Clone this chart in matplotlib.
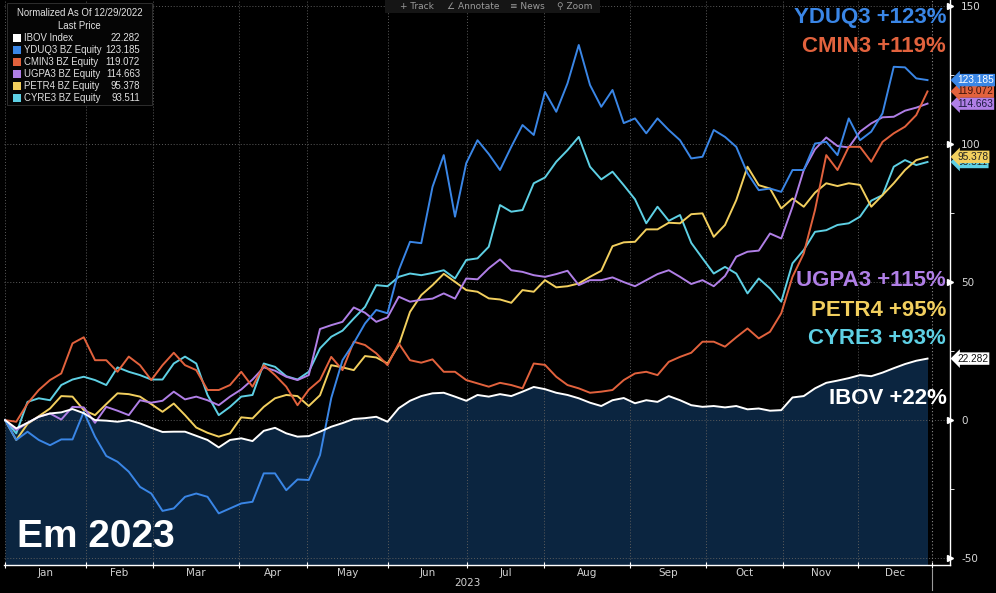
import matplotlib
matplotlib.use("Agg")
import matplotlib.pyplot as plt
from matplotlib.transforms import blended_transform_factory
from matplotlib.patches import Rectangle
from matplotlib.lines import Line2D

# ---------------- data (trading-day index, normalized % change) ----------------
days = list(range(0, 247, 3))

ibov = [0, -3, -1, 1.2, 2.4, 2.8, 4.0, 2.5, 0, -0.2,
        -0.6, 0, -1.2, -2.8, -4.3, -4.2, -4.2, -5.7, -7.2, -9.9,
        -7.2, -6.6, -7.6, -3.9, -2.8, -4.8, -6.0, -5.8, -4.2, -2.4,
        -1.1, 0.4, 0.7, 1.2, -0.6, 4.3, 7.0, 8.7, 9.7, 9.9,
        8.5, 7.0, 9.1, 8.5, 9.4, 8.7, 10.3, 12.0, 11.2, 9.9,
        9.1, 7.9, 6.3, 5.1, 7.2, 8.0, 6.1, 7.2, 6.6, 8.7,
        7.2, 5.4, 4.8, 5.1, 4.6, 5.1, 3.9, 4.2, 3.4, 3.6,
        8.2, 8.7, 11.5, 13.5, 14.3, 15.2, 16.3, 15.9, 17.2, 18.8,
        20.3, 21.5, 22.282]

yduq3 = [0, -7.2, -4.2, -7.2, -9.1, -7.0, -7.0, 3.0, -6.0, -13,
         -15.1, -18.7, -24.2, -26.6, -32.9, -32, -27.8, -26.6, -27.8, -33.8,
         -32, -30.2, -29.6, -19.3, -19.3, -25.4, -21.5, -21.7, -12.7, 8,
         21.7, 27.9, 35, 39.9, 38.7, 54.3, 64.6, 64.1, 84.5, 96,
         73.7, 93.1, 101.4, 96.4, 90.6, 99, 106.9, 103.3, 118.9, 111.7,
         122, 135.9, 121.4, 113.5, 119.6, 107.6, 109.3, 103.9, 109.3, 105.1,
         101.4, 94.8, 95.4, 105.1, 102.6, 99, 89.4, 83.3, 83.9, 82.7,
         90.6, 90.6, 100.2, 100.8, 96, 109.3, 101.4, 104.5, 111.1, 128,
         127.8, 123.8, 123.185]

cmin3 = [0, -0.6, 6, 10.9, 14.5, 16.9, 27.8, 30, 21.7, 21.7,
         17.5, 23, 19.9, 14.5, 19.9, 24.4, 19.9, 18.1, 10.9, 10.9,
         12.7, 17.5, 12.1, 19.9, 16.3, 12.1, 5.4, 11, 14.5, 22.9,
         18.1, 28.4, 27.2, 24.2, 19.9, 27.8, 21.7, 20.8, 22, 17.5,
         17.5, 14.5, 13.3, 12.1, 13.5, 12.7, 11.5, 20.5, 20.0, 15.7,
         12.7, 11.5, 9.9, 10.3, 10.9, 14.5, 16.9, 17.5, 16.3, 21.1,
         22.9, 24.4, 28.4, 28.4, 26.6, 30, 33.2, 29.6, 32, 38.7,
         51.9, 60.4, 76.1, 96, 90.6, 99, 99, 93.6, 100.8, 103.9,
         106.3, 110.5, 119.072]

ugpa3 = [0, -3.6, -1, 1.2, 2.4, 0.2, 4.8, 4.6, -1, 4.8,
         3.4, 1.8, 7.2, 6.3, 7, 10.3, 7.5, 8.5, 7.2, 5.4,
         8.5, 11.1, 14.7, 19.1, 17.9, 15.7, 14.5, 16.3, 33, 34.4,
         35.6, 40.8, 38.9, 35.6, 37.2, 44.7, 42.9, 43.6, 44, 45.9,
         44, 51.3, 51, 55, 58.2, 54.3, 53.7, 52.5, 51.9, 52.9,
         54.1, 48.9, 50.7, 50.7, 51.7, 50, 48.5, 50.7, 52.9, 54.3,
         51.9, 49.3, 50.7, 48.5, 52.2, 59.2, 61, 61.4, 67.6, 65.8,
         77.3, 90.6, 98.1, 102.4, 99.3, 98.8, 104.5, 107.5, 109.7, 109.9,
         112.1, 113.2, 114.663]

petr4 = [0, -7.2, -1.4, 1.4, 4.2, 8.7, 8.5, 3.6, 1.8, 5.8,
         9.7, 9.4, 8.5, 5.8, 3, 6, 1.8, -2.7, -4.6, -6,
         -4.8, 1, 0.6, 4.8, 7.9, 9.1, 8.7, 5.1, 9, 19.9,
         19.1, 18.1, 23.2, 22.7, 20.5, 27.2, 39.2, 45.3, 48.9, 53,
         50.1, 47.1, 46.5, 44.1, 43.7, 42.5, 47.1, 46.5, 50.7, 48.1,
         48.5, 49.5, 51.9, 54.1, 63, 64.4, 64.6, 69.1, 69.1, 71.5,
         71.3, 74.6, 74.9, 66.4, 70.7, 79.7, 91.8, 85.1, 83.9, 76.7,
         80.3, 77.3, 82.4, 85.8, 84.8, 85.8, 85.2, 77.3, 81.5, 85.8,
         90.6, 94.2, 95.378]

cyre3 = [0, -4.8, 6.6, 7.9, 7.2, 12.7, 14.7, 15.7, 14.5, 12.7,
         19.1, 17.5, 16.3, 14.7, 14.7, 20.5, 23, 20.5, 9.1, 1.8,
         4.8, 8.5, 9.1, 20.5, 19.3, 15.9, 14.7, 17.5, 26, 30.2,
         32.4, 36.8, 41, 48.9, 48.5, 51.9, 53.1, 52.5, 53.3, 54.3,
         51.3, 58, 58.6, 62.8, 77.9, 75.5, 76.1, 85.8, 87.9, 93.6,
         97.8, 102.6, 91.8, 87.2, 90, 85.1, 80, 71.3, 77.3, 72.2,
         74.3, 64.2, 58.6, 53.1, 55.5, 53.1, 45.9, 51.3, 47.7, 42.9,
         56.8, 61.6, 68.2, 68.8, 70.7, 71.3, 73.7, 79.5, 81.5, 91.8,
         94.2, 92.4, 93.511]

legend_names = ["IBOV Index", "YDUQ3 BZ Equity", "CMIN3 BZ Equity",
                "UGPA3 BZ Equity", "PETR4 BZ Equity", "CYRE3 BZ Equity"]
last_labels = ["22.282", "123.185", "119.072", "114.663", "95.378", "93.511"]
big_labels = ["IBOV +22%", "YDUQ3 +123%", "CMIN3 +119%",
              "UGPA3 +115%", "PETR4 +95%", "CYRE3 +93%"]
month_names = ["Jan", "Feb", "Mar", "Apr", "May", "Jun",
               "Jul", "Aug", "Sep", "Oct", "Nov", "Dec"]
month_edges = [0, 21.6, 39.5, 62.4, 80.5, 102.1, 123.2, 143.7,
               166.7, 186.9, 207.5, 227.5, 247.2]
yticks = [-50, 0, 50, 100, 150]

all_series = [ibov, yduq3, cmin3, ugpa3, petr4, cyre3]
colors = ["#ffffff", "#3a86e6", "#e2623d", "#b07fe6", "#f2cf5e", "#5ed0e4"]
tag_text_colors = ["#111111", "#ffffff", "#3a120a", "#1a1a40", "#222222", "#222222"]

# ---------------- figure ----------------
W, H = 996, 593
fig = plt.figure(figsize=(W / 100, H / 100), dpi=100, facecolor="black")

def fx(px):
    return px / W

def fy(py):
    return 1 - py / H

ax = fig.add_axes([fx(4), fy(565), (950 - 4) / W, 565 / H])
ax.set_facecolor("black")
ax.set_xlim(-0.27, 252.0)
ax.set_ylim(-52.5, 152.2)

# grid
grid_kw = dict(color="#5c5c5c", lw=0.7, ls=(0, (1, 2)), zorder=1.5)
for v in yticks:
    ax.axhline(v, **grid_kw)
for e in month_edges[:-1]:
    ax.axvline(e, **grid_kw)
ax.axvline(month_edges[-1], color="#8a8a8a", lw=0.8, ls=(0, (1, 2)), zorder=1.5)

# IBOV area
ax.fill_between(days, ibov, -52.5, color="#0b2540", lw=0, zorder=1)

# lines (IBOV drawn on top of the fill)
order = [5, 4, 3, 2, 1, 0]
for i in order:
    ax.plot(days, all_series[i], color=colors[i], lw=1.4, zorder=3,
            solid_joinstyle="round")

# spines
for s in ["left", "top"]:
    ax.spines[s].set_visible(False)
for s in ["right", "bottom"]:
    ax.spines[s].set_color("white")
    ax.spines[s].set_linewidth(1.0)

# y axis on right
ax.yaxis.tick_right()
ax.set_yticks(yticks)
ax.set_yticklabels([str(v) for v in yticks])
ax.set_yticks([-25, 25, 75, 125], minor=True)
ax.tick_params(axis="y", which="major", colors="white", length=0, pad=8,
               labelsize=7.5, labelcolor="#d8d8d8")
ax.tick_params(axis="y", which="minor", colors="white", length=3, direction="out")
btrans = blended_transform_factory(ax.transAxes, ax.transData)
ax.plot([1.0] * len(yticks), yticks, ls="none", marker=">", ms=4, color="white",
        transform=btrans, clip_on=False, zorder=5)

# x axis: month boundaries
ax.set_xticks(month_edges)
ax.set_xticklabels([])
ax.tick_params(axis="x", colors="white", length=4, direction="inout", width=0.8)
xtrans = blended_transform_factory(ax.transData, ax.transAxes)
for k, name in enumerate(month_names):
    mid = (month_edges[k] + month_edges[k + 1]) / 2
    ax.text(mid, -0.0135, name, transform=xtrans, ha="center", va="center",
            fontsize=7.5, color="#d0d0d0", family="DejaVu Sans")
ax.text(123.2, -0.032, "2023", transform=xtrans, ha="center", va="center",
        fontsize=7.5, color="#d0d0d0", family="DejaVu Sans")
fig.add_artist(Line2D([fx(932), fx(932)], [fy(569), fy(590)], color="#9a9a9a",
                      lw=0.8, transform=fig.transFigure))

# last-value tags (CYRE3 tag sits mostly behind the PETR4 tag, as in the original)
tag_order = [0, 5, 4, 3, 2, 1]
for i in tag_order:
    ax.text(1.0075, all_series[i][-1], last_labels[i], transform=btrans,
            ha="left", va="center", fontsize=7.3, color=tag_text_colors[i],
            family="Liberation Sans", clip_on=False, zorder=6,
            bbox=dict(boxstyle="larrow,pad=0.12", fc=colors[i], ec="none"))

# big labels
big_pos = [(947, 398), (946, 17), (946, 46), (946, 281), (946, 311), (946, 338)]
for i in range(6):
    fig.text(fx(big_pos[i][0]), fy(big_pos[i][1]), big_labels[i], ha="right",
             va="center", fontsize=16, fontweight="bold", color=colors[i],
             family="Liberation Sans")

fig.text(fx(17), fy(537), "Em 2023", ha="left", va="center", fontsize=28,
         fontweight="bold", color="white", family="Liberation Sans")

# legend box
fig.add_artist(Rectangle((fx(7), fy(105)), (152 - 7) / W, (105 - 3) / H,
                         transform=fig.transFigure, fc="#050505", ec="#2e2e2e",
                         lw=0.7, zorder=10))
leg_kw = dict(fontsize=6.9, color="#e2e2e2", family="Liberation Sans", zorder=11)
fig.text(fx(79.5), fy(13.5), "Normalized As Of 12/29/2022", ha="center",
         va="center", **leg_kw)
fig.text(fx(79.5), fy(25.7), "Last Price", ha="center", va="center", **leg_kw)
for i in range(6):
    yy = 37.7 + 12 * i
    fig.add_artist(Rectangle((fx(12.5), fy(yy + 4)), 8 / W, 8 / H,
                             transform=fig.transFigure, fc=colors[i], ec="none",
                             zorder=11))
    fig.text(fx(24), fy(yy), legend_names[i], ha="left", va="center", **leg_kw)
    fig.text(fx(140), fy(yy), last_labels[i], ha="right", va="center", **leg_kw)

# toolbar
fig.add_artist(Rectangle((fx(385), fy(13)), (600 - 385) / W, 13 / H,
                         transform=fig.transFigure, fc="#151515", ec="none", zorder=10))
tb_kw = dict(fontsize=6.5, color="#9a9a9a", family="DejaVu Sans", ha="center",
             va="center", zorder=11)
for label, px in [("+ Track", 417), ("∠ Annotate", 473), ("≡ News", 527), ("⚲ Zoom", 575)]:
    fig.text(fx(px), fy(6.5), label, **tb_kw)

fig.savefig("out.png", dpi=100, facecolor="black")
